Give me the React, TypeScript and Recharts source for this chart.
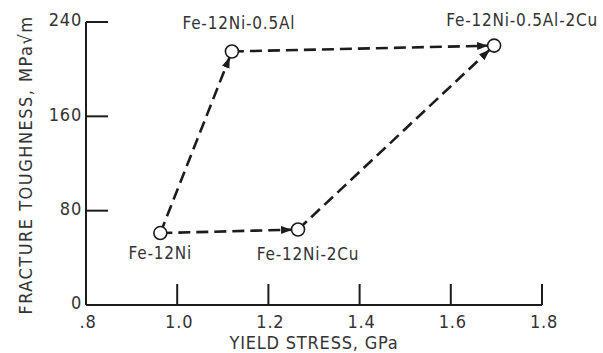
import { Label, Scatter, ScatterChart, XAxis, YAxis } from "recharts";

// Alloy compositions with their measured properties
const alloys = ["Fe-12Ni", "Fe-12Ni-2Cu", "Fe-12Ni-0.5Al", "Fe-12Ni-0.5Al-2Cu"];
const yieldStress = [0.963, 1.265, 1.12, 1.695];
const toughness = [61, 64, 215, 220];

// Arrows between alloys: [from, to]
const transitions: [number, number][] = [
  [0, 2],
  [0, 1],
  [1, 3],
  [2, 3]
];

const xTicks = [0.8, 1.0, 1.2, 1.4, 1.6, 1.8];
const yTicks = [0, 80, 160, 240];

const FONT = '"Liberation Sans Narrow", "DejaVu Sans Condensed", "Liberation Sans", sans-serif';
const INK = "#1c1c1c";
const TEXT = "#333";

const points = alloys.map((name, i) => ({ name, x: yieldStress[i], y: toughness[i] }));

// where each alloy name sits relative to its marker
const labelOffset: Record<string, { dx: number; dy: number }> = {
  "Fe-12Ni": { dx: 0, dy: 26 },
  "Fe-12Ni-2Cu": { dx: 10, dy: 30 },
  "Fe-12Ni-0.5Al": { dx: 7, dy: -22 },
  "Fe-12Ni-0.5Al-2Cu": { dx: 28, dy: -20 }
};

const tickStyle = { fill: TEXT, fontSize: 18, fontFamily: FONT, letterSpacing: 0.8 };

function AlloyMarker(props: any) {
  const { cx, cy, payload } = props;
  const off = labelOffset[payload.name];
  return (
    <g>
      <circle cx={cx} cy={cy} r={6.5} fill="#fff" stroke={INK} strokeWidth={1.6} />
      <text
        x={cx + off.dx}
        y={cy + off.dy}
        textAnchor="middle"
        fill={TEXT}
        fontSize={17}
        fontFamily={FONT}
        letterSpacing={0.8}
      >
        {payload.name}
      </text>
    </g>
  );
}

export default function App() {
  return (
    <div style={{ position: "absolute", left: 0, top: 0, width: 603, height: 353, background: "#fff" }}>
      <svg width={0} height={0} style={{ position: "absolute" }}>
        <defs>
          <marker
            id="arrowHead"
            markerUnits="userSpaceOnUse"
            markerWidth={20}
            markerHeight={10}
            refX={17}
            refY={4}
            orient="auto"
          >
            <path d="M0,0 L11,4 L0,8 z" fill={INK} />
          </marker>
        </defs>
      </svg>
      <ScatterChart width={603} height={353} margin={{ top: 22, right: 61, bottom: 18, left: 46 }}>
        <XAxis
          type="number"
          dataKey="x"
          domain={[0.8, 1.8]}
          ticks={xTicks}
          height={30}
          tickSize={-21}
          tickMargin={31}
          tickFormatter={(v: number) => v.toFixed(1).replace(/^0/, "")}
          tick={{ ...tickStyle, dx: 2 }}
          axisLine={{ stroke: INK, strokeWidth: 2 }}
          tickLine={{ stroke: INK, strokeWidth: 2 }}
        >
          <Label
            content={({ viewBox }: any) => (
              <text
                x={viewBox.x + viewBox.width / 2}
                y={349}
                textAnchor="middle"
                fill={TEXT}
                fontSize={18}
                fontFamily={FONT}
                letterSpacing={0.8}
              >
                YIELD STRESS, GPa
              </text>
            )}
          />
        </XAxis>
        <YAxis
          type="number"
          dataKey="y"
          domain={[0, 240]}
          ticks={yTicks}
          width={40}
          tickSize={-22}
          tickMargin={26}
          tick={{ ...tickStyle, dy: -2 }}
          axisLine={{ stroke: INK, strokeWidth: 2 }}
          tickLine={{ stroke: INK, strokeWidth: 2 }}
        >
          <Label
            content={() => (
              <text
                x={0}
                y={0}
                transform="translate(32,165) rotate(-90)"
                textAnchor="middle"
                fill={TEXT}
                fontSize={18}
                fontFamily={FONT}
                letterSpacing={1.5}
              >
                FRACTURE TOUGHNESS, MPa√m
              </text>
            )}
          />
        </YAxis>
        {transitions.map(([from, to], i) => (
          <Scatter
            key={`path-${i}`}
            data={[points[from], points[to]]}
            line={{
              stroke: INK,
              strokeWidth: 2.6,
              strokeDasharray: "12 6",
              markerEnd: "url(#arrowHead)"
            }}
            shape={() => <g />}
            isAnimationActive={false}
          />
        ))}
        <Scatter data={points} shape={AlloyMarker} isAnimationActive={false} />
      </ScatterChart>
    </div>
  );
}
